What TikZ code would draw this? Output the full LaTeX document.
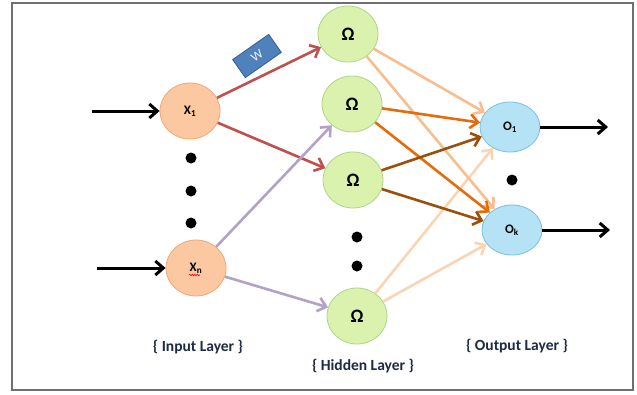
\documentclass[tikz,border=0pt]{standalone}
\usepackage{fontspec}
\setmainfont{Carlito}
\usetikzlibrary{arrows.meta,shapes.geometric,decorations.pathmorphing}
\definecolor{inFill}{HTML}{FBC8A2}
\definecolor{inDraw}{HTML}{F0A878}
\definecolor{hidFill}{HTML}{DBF2AE}
\definecolor{hidDraw}{HTML}{AED486}
\definecolor{outFill}{HTML}{B5E2F5}
\definecolor{outDraw}{HTML}{78C0DD}
\definecolor{redLink}{HTML}{C0504D}
\definecolor{lilacLink}{HTML}{B3A2C7}
\definecolor{peachLink}{HTML}{F9BE8E}
\definecolor{orangeLink}{HTML}{E46C0A}
\definecolor{brownLink}{HTML}{9C4F0C}
\definecolor{paleLink}{HTML}{FBD4B4}
\definecolor{wFill}{HTML}{4F81BD}
\definecolor{wDraw}{HTML}{385D8A}
\definecolor{frameGray}{HTML}{707070}
\definecolor{labelText}{HTML}{1F2A44}
\begin{document}
\begin{tikzpicture}[x=1pt, y=-1pt,
	neuron/.style={draw, shape=ellipse, minimum width=60pt, minimum height=56pt, inner sep=0, line width=0.8pt},
	inneuron/.style={neuron, fill=inFill, draw=inDraw, font=\bfseries\fontsize{13}{15}\selectfont},
	hidneuron/.style={neuron, fill=hidFill, draw=hidDraw, font=\bfseries\fontsize{19}{21}\selectfont},
	outneuron/.style={neuron, minimum height=50pt, fill=outFill, draw=outDraw, font=\bfseries\fontsize{13}{15}\selectfont},
	link/.style={line width=2.6pt, -{Straight Barb[length=8pt, width=14pt]}},
	io/.style={link, line width=3pt, black},
	blob/.style={circle, fill=black, minimum size=11pt, inner sep=0},
	layer/.style={font=\bfseries\fontsize{15.5}{17}\selectfont, text=labelText}]
	\useasboundingbox[fill=white] (0,0) rectangle (637,394);
	\draw[frameGray, line width=1.4pt] (12,3) rectangle (633,390);

	\node[inneuron] (X1) at (190,111) {X\textsubscript{1}};
	\node[inneuron] (Xn) at (196,268) {X\textsubscript{n}};
	\foreach \y/\n in {158/a,191/b,223/c}
		{
			\node[blob] (indot\n) at (191,\y) {};
		}

	\foreach \x/\y/\n in {348/34/1,352/104/2,353/180/3,357/316/4}
		{
			\node[hidneuron] (H\n) at (\x,\y) {Ω};
		}
	\foreach \y/\n in {237/a,266/b}
		{
			\node[blob] (hiddot\n) at (357,\y) {};
		}

	\node[outneuron] (O1) at (510,127) {O\textsubscript{1}};
	\node[outneuron] (Ok) at (512,230) {O\textsubscript{k}};
	\node[blob] (outdot) at (512,180) {};

	\coordinate (in1) at (92,111);
	\coordinate (inn) at (97,268);
	\coordinate (out1) at (608,127);
	\coordinate (outk) at (610,230);
	\draw[io] (in1) -- (X1);
	\draw[io] (inn) -- (Xn);
	\draw[io] (O1) -- (out1);
	\draw[io] (Ok) -- (outk);

	\draw[link, redLink] (X1) -- (H1);
	\draw[link, redLink] (X1) -- (H3);
	\draw[link, lilacLink] (Xn) -- (H2);
	\draw[link, lilacLink] (Xn) -- (H4);

	\foreach \h/\c in {4/paleLink,1/peachLink,2/orangeLink,3/brownLink}
		{
			\draw[link, \c] (H\h) -- (O1);
			\draw[link, \c] (H\h) -- (Ok);
		}

	\node[draw=wDraw, fill=wFill, line width=0.8pt, minimum width=44pt, minimum height=22pt, rotate=35, text=white!90!wFill, font=\fontsize{13}{15}\selectfont] (W) at (257,56) {W};
	\draw[red, line width=0.6pt, decorate, decoration={snake, amplitude=0.8pt, segment length=2.5pt}] ([xshift=-7pt, yshift=-7pt]Xn.center) -- ([xshift=4pt, yshift=-7pt]Xn.center);

	\node[layer] (inlabel) at (198,347) {\{ Input Layer \}};
	\node[layer] (hidlabel) at (363,366) {\{ Hidden Layer \}};
	\node[layer] (outlabel) at (517,346) {\{ Output Layer \}};
\end{tikzpicture}
\end{document}
